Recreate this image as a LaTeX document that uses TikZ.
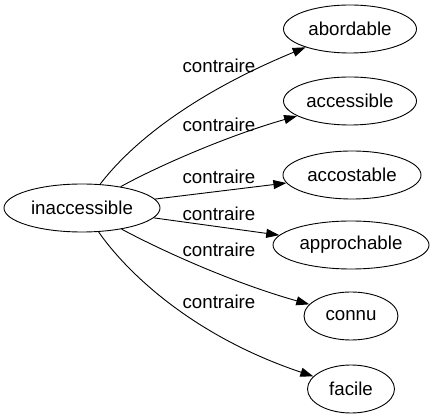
\documentclass[tikz,border=0pt]{standalone}
\usepackage{fontspec}
\setmainfont{Liberation Sans}
\usetikzlibrary{arrows.meta,shapes.geometric}

\begin{document}
\begin{tikzpicture}[x=1pt, y=-1pt, >={Triangle[length=13pt,width=9pt]}, line width=0.9pt,
    word/.style={draw, ellipse, minimum height=48pt, minimum width=#1, inner sep=0pt,
        font=\fontsize{18.7}{22}\selectfont},
    rel/.style={inner sep=0pt, font=\fontsize{18.7}{22}\selectfont}]
    \useasboundingbox (0,0) rectangle (434,419);

    % les mots
    \node[word=156] (inaccessible) at (82,208) {inaccessible};
    \node[word=133] (abordable) at (350,29) {abordable};
    \node[word=133] (accessible) at (350,101) {accessible};
    \node[word=138] (accostable) at (352,175) {accostable};
    \node[word=156] (approchable) at (351,245) {approchable};
    \node[word=94] (connu) at (351,316) {connu};
    \node[word=87] (facile) at (351,389) {facile};

    % les relations
    \draw[->] (inaccessible) .. controls (130,145) and (190,95) .. (abordable);
    \draw[->] (inaccessible) .. controls (160,165) and (230,135) .. (accessible);
    \draw[->] (inaccessible) -- (accostable);
    \draw[->] (inaccessible) -- (approchable);
    \draw[->] (inaccessible) .. controls (170,255) and (240,285) .. (connu);
    \draw[->] (inaccessible) .. controls (125,270) and (190,335) .. (facile);

    % les etiquettes
    \node[rel] (c1) at (219,65.5) {contraire};
    \node[rel] (c2) at (219,125) {contraire};
    \node[rel] (c3) at (219,177) {contraire};
    \node[rel] (c4) at (219,213.5) {contraire};
    \node[rel] (c5) at (219,250) {contraire};
    \node[rel] (c6) at (219,301.5) {contraire};
\end{tikzpicture}
\end{document}
